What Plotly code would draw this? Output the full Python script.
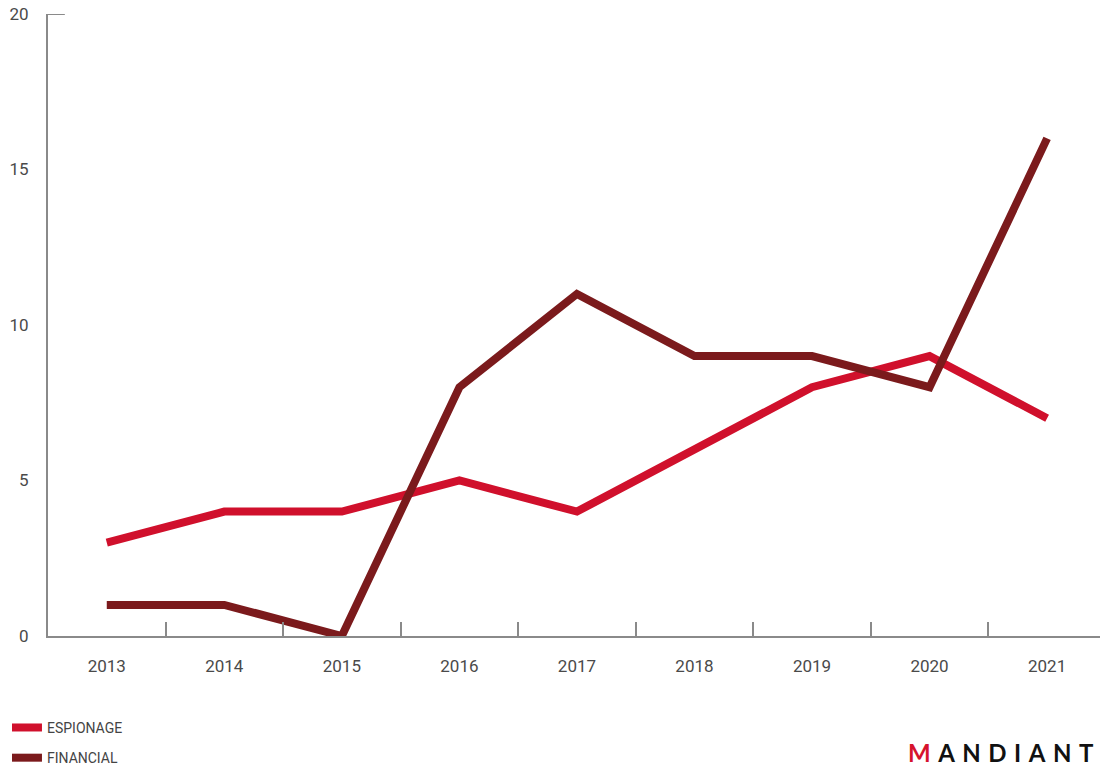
import plotly.graph_objects as go

years = ["2013", "2014", "2015", "2016", "2017", "2018", "2019", "2020", "2021"]
espionage = [3, 4, 4, 5, 4, 6, 8, 9, 7]
financial = [1, 1, 0, 8, 11, 9, 9, 8, 16]
y_ticks = [0, 5, 10, 15, 20]

RED = "#d0102c"
DARK = "#7b1a1c"
AXIS = "#8a8a8a"
TEXT = "#4a4a4a"

fig = go.Figure()
fig.add_trace(go.Scatter(x=years, y=espionage, name="ESPIONAGE", mode="lines", legendgroup="a",
                         line=dict(color=RED, width=8)))
fig.add_trace(go.Scatter(x=years, y=financial, name="FINANCIAL", mode="lines", legendgroup="b",
                         line=dict(color=DARK, width=8)))

fig.update_layout(
    width=1101, height=767,
    margin=dict(l=48, r=1, t=14, b=131, autoexpand=False),
    plot_bgcolor="white", paper_bgcolor="white",
    font=dict(family="Roboto", size=16, color=TEXT),
    showlegend=True,
    legend=dict(orientation="v", x=-0.039, xanchor="left", y=-0.122, yanchor="top",
                font=dict(size=14, color="#444"), itemwidth=30, tracegroupgap=9,
                bgcolor="rgba(0,0,0,0)"),
    xaxis=dict(type="category", range=[-0.5, 8.45], showgrid=False, automargin=False,
               showline=True, linecolor=AXIS, linewidth=2,
               ticks="inside", tickson="boundaries", ticklen=14, tickcolor=AXIS, tickwidth=1.5,
               ticklabelstandoff=14, tickfont=dict(size=17, color=TEXT)),
    yaxis=dict(range=[0, 20], tickvals=y_ticks, showgrid=False, zeroline=False, automargin=False,
               showline=True, linecolor=AXIS, linewidth=2, ticks="",
               ticklabelstandoff=14, tickfont=dict(size=17, color=TEXT)),
)

fig.add_shape(type="line", xref="paper", yref="y", x0=0, x1=0.016, y0=20, y1=20,
              line=dict(color=AXIS, width=2))

sp = "\u2009\u2009\u200a"
logo = "<b><span style='color:#d6132d'>M</span>" + sp + sp.join("ANDIANT") + "</b>"
fig.add_annotation(xref="paper", yref="paper", x=0.996, y=-0.187, xanchor="right", yanchor="middle",
                   text=logo, showarrow=False, font=dict(family="Lato", size=24, color="#111"))

fig.write_html("out.html", config={"displayModeBar": False},
               post_script="document.body.style.margin='0';document.body.style.padding='0';")
